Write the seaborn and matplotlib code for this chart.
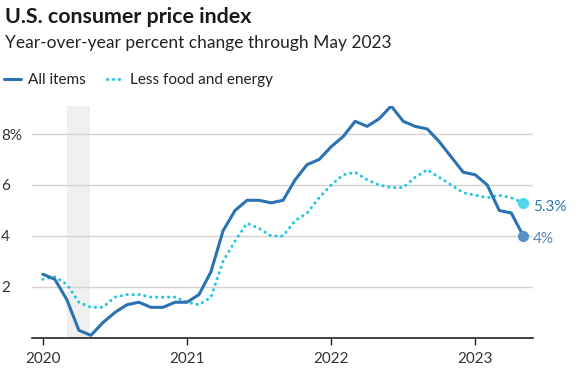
import numpy as np
import pandas as pd
import matplotlib.pyplot as plt
import seaborn as sns

sns.set_theme(style="white")
plt.rcParams["font.family"] = ["Lato", "DejaVu Sans"]

# Monthly year-over-year % change, Jan 2020 .. May 2023
months = pd.date_range("2020-01-01", "2023-05-01", freq="MS")
all_items = [2.5, 2.3, 1.5, 0.3, 0.1, 0.6, 1.0, 1.3, 1.4, 1.2, 1.2, 1.4,
             1.4, 1.7, 2.6, 4.2, 5.0, 5.4, 5.4, 5.3, 5.4, 6.2, 6.8, 7.0,
             7.5, 7.9, 8.5, 8.3, 8.6, 9.1, 8.5, 8.3, 8.2, 7.7, 7.1, 6.5,
             6.4, 6.0, 5.0, 4.9, 4.0]
core = [2.3, 2.4, 2.1, 1.4, 1.2, 1.2, 1.6, 1.7, 1.7, 1.6, 1.6, 1.6,
        1.4, 1.3, 1.6, 3.0, 3.8, 4.5, 4.3, 4.0, 4.0, 4.6, 4.9, 5.5,
        6.0, 6.4, 6.5, 6.2, 6.0, 5.9, 5.9, 6.3, 6.6, 6.3, 6.0, 5.7,
        5.6, 5.5, 5.6, 5.5, 5.3]
year_ticks = ["2020", "2021", "2022", "2023"]
y_ticks = [2, 4, 6, 8]
recession = (2, 3.9)  # months since Jan 2020

df = pd.DataFrame({"m": np.arange(len(months)), "all": all_items, "core": core})

blue = "#2a72b2"
cyan = "#22c6e4"

fig = plt.figure(figsize=(5.78, 3.84), dpi=100)
ax = fig.add_axes([0.055, 0.12, 0.867, 0.604])

ax.axvspan(recession[0], recession[1], color="#efefef", zorder=0, lw=0)

sns.lineplot(data=df, x="m", y="core", ax=ax, color=cyan, lw=2.2,
             label="Less food and energy", zorder=3)
ax.lines[-1].set_dashes((0.05, 1.9))
ax.lines[-1].set_dash_capstyle("round")
sns.lineplot(data=df, x="m", y="all", ax=ax, color=blue, lw=2.2,
             label="All items", zorder=4)
for ln in ax.lines:
    ln.set_solid_joinstyle("round")

last = df["m"].iloc[-1]
ax.scatter([last], [core[-1]], s=65, color="#4fd6f0", zorder=5, lw=0)
ax.scatter([last], [all_items[-1]], s=65, color="#5b8fc4", zorder=5, lw=0)
ax.annotate(f"{core[-1]}%", (last, core[-1]), xytext=(7, -3),
            textcoords="offset points", va="center", fontsize=11, color="#2e78ad")
ax.annotate(f"{all_items[-1]:g}%", (last, all_items[-1]), xytext=(7, -2),
            textcoords="offset points", va="center", fontsize=11, color="#5a7fbe")

ax.set_xlim(-0.92, 40.8)
ax.set_ylim(0, 9.1)
ax.set_xticks([0, 12, 24, 36])
ax.set_xticklabels(year_ticks)
ax.set_yticks(y_ticks)
ax.set_yticklabels([f"{v}%" if v == 8 else str(v) for v in y_ticks])
ax.set_xlabel("")
ax.set_ylabel("")
ax.grid(axis="y", color="#d3d3d3", lw=1)
for s in ["top", "right", "left"]:
    ax.spines[s].set_visible(False)
ax.spines["bottom"].set_color("#222222")
ax.spines["bottom"].set_linewidth(1.2)
ax.tick_params(axis="x", length=5, width=1, color="#222222", bottom=True,
               labelsize=11, labelcolor="#333333", pad=5)
ax.tick_params(axis="y", length=0, labelsize=11, labelcolor="#333333", pad=4)
for lab in ax.get_yticklabels():
    lab.set_horizontalalignment("left")
    lab.set_x(-0.05)

handles, labels = ax.get_legend_handles_labels()
ax.legend(handles[::-1], labels[::-1], loc="center left", bbox_to_anchor=(-0.017, 0.792),
          bbox_transform=fig.transFigure, ncol=2, frameon=False, fontsize=11,
          handlelength=1.1, handletextpad=0.45, columnspacing=1.4, labelcolor="#222222")

fig.text(0.009, 0.955, "U.S. consumer price index", fontsize=15.4, fontweight="bold",
         color="#1a1a1a", va="center")
fig.text(0.009, 0.888, "Year-over-year percent change through May 2023", fontsize=12.5,
         color="#222222", va="center")

fig.savefig("out.png", dpi=100)
